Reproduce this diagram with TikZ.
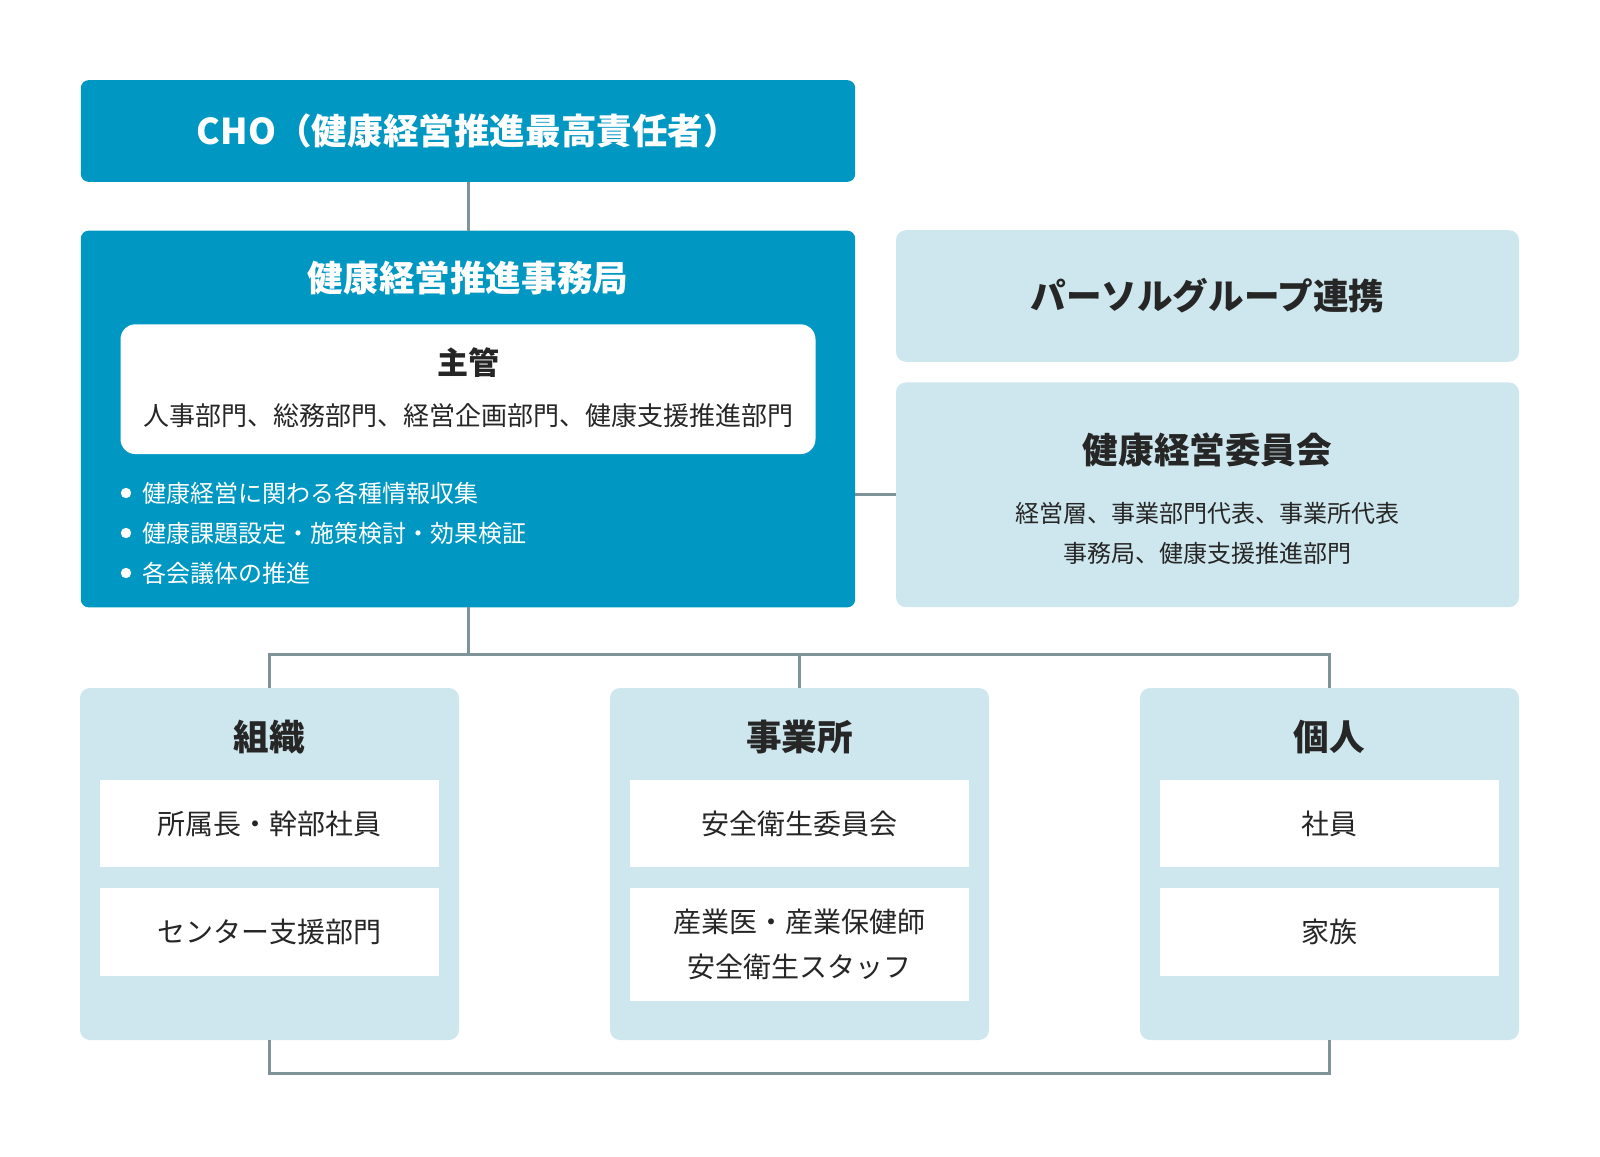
\documentclass[tikz,border=0pt]{standalone}
\usepackage{fontspec}
\setmainfont{Noto Sans CJK JP}
\usetikzlibrary{positioning}

\definecolor{kenkoblue}{RGB}{0,152,194}
\definecolor{paleblue}{RGB}{206,231,238}
\definecolor{linkgray}{RGB}{127,148,153}
\definecolor{inkgray}{RGB}{38,38,38}

\begin{document}
\begin{tikzpicture}[x=0.5pt,y=-0.5pt,
	every node/.style={inner sep=0pt, outer sep=0pt},
	darkbox/.style={fill=kenkoblue, rounded corners=4pt},
	palebox/.style={fill=paleblue, rounded corners=5pt},
	itembox/.style={fill=white, minimum width=169.8pt, minimum height=43.65pt},
	headtext/.style={font=\fontsize{17.8}{21}\selectfont\bfseries},
	bodytext/.style={font=\fontsize{14}{22.5}\selectfont, text=inkgray, align=center},
	link/.style={draw=linkgray, line width=1.5pt}]
	\useasboundingbox (0,0) rectangle (1600,1156);

	% top: CHO and the office
	\node[darkbox, headtext, text=white, minimum width=387.2pt, minimum height=50.9pt] (cho) at (468,131) {CHO（健康経営推進最高責任者）};
	\node[darkbox, minimum width=387.2pt, minimum height=188.4pt] (office) at (468,419) {};
	\node[headtext, text=white] (officetitle) at (468,278) {健康経営推進事務局};
	\node[fill=white, rounded corners=7.5pt, minimum width=347.5pt, minimum height=64.9pt] (chief) at (468,389.2) {};
	\node[font=\fontsize{15.5}{18}\selectfont\bfseries, text=inkgray] (chieftitle) at (468,363) {主管};
	\node[font=\fontsize{13}{16}\selectfont, text=inkgray] (chiefdepts) at (468,416) {人事部門、総務部門、経営企画部門、健康支援推進部門};
	\foreach \y/\t [count=\i] in {493/健康経営に関わる各種情報収集, 533/健康課題設定・施策検討・効果検証, 573/各会議体の推進} {
		\fill[white] (126,\y) circle (2.6pt);
		\node[anchor=west, font=\fontsize{12}{15}\selectfont, text=white] (task\i) at (142,\y) {\t};
	}

	% right column
	\node[palebox, headtext, text=inkgray, minimum width=311.5pt, minimum height=65.8pt] (group) at (1207.5,296) {パーソルグループ連携};
	\node[palebox, minimum width=311.5pt, minimum height=112.4pt] (committee) at (1207.5,494.8) {};
	\node[headtext, text=inkgray] (committeetitle) at (1207.5,450) {健康経営委員会};
	\node[font=\fontsize{12}{20}\selectfont, text=inkgray, align=center] (committeemembers) at (1207.5,533) {経営層、事業部門代表、事業所代表\\事務局、健康支援推進部門};

	% bottom row
	\foreach \n/\x/\t in {org/269.5/組織, site/799.5/事業所, person/1329.5/個人} {
		\node[palebox, minimum width=189.5pt, minimum height=176pt] (\n) at (\x,864) {};
		\node[headtext, text=inkgray] (\n title) at (\x,737) {\t};
	}
	\node[itembox, bodytext] (orgA) at (269.5,823.7) {所属長・幹部社員};
	\node[itembox, bodytext] (orgB) at (269.5,932) {センター支援部門};
	\node[itembox, bodytext] (siteA) at (799.5,823.7) {安全衛生委員会};
	\node[itembox, bodytext, minimum height=56.35pt] (siteB) at (799.5,944.7) {産業医・産業保健師\\安全衛生スタッフ};
	\node[itembox, bodytext] (personA) at (1329.5,823.7) {社員};
	\node[itembox, bodytext] (personB) at (1329.5,932) {家族};

	% connectors
	\coordinate (branch) at (468,654);
	\coordinate (loop) at (799.5,1073.5);
	\draw[link] (cho.south) -- (office.north);
	\draw[link] (office.east |- committee.west) -- (committee.west);
	\draw[link] (office.south) -- (branch);
	\draw[link] (org.north) |- (branch) -| (person.north);
	\draw[link] (site.north) -- (site.north |- branch);
	\draw[link] (org.south) |- (loop) -| (person.south);
\end{tikzpicture}
\end{document}
